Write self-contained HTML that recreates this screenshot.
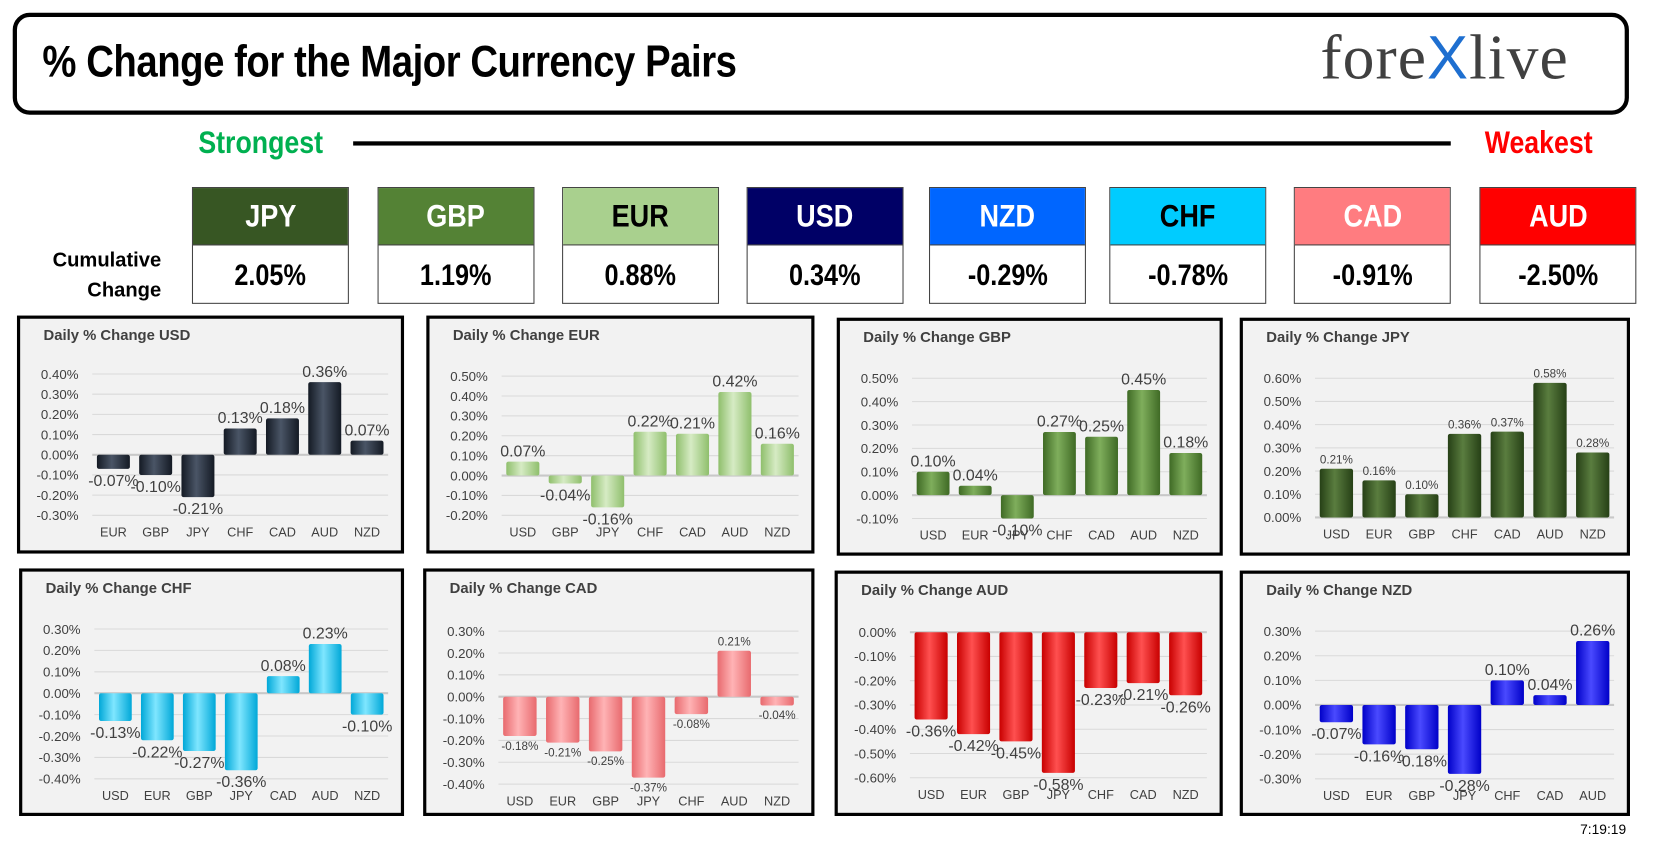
<!DOCTYPE html>
<html><head><meta charset="utf-8">
<style>
html,body{margin:0;padding:0;background:#fff;overflow:hidden;width:1663px;height:852px}
#root{position:absolute;left:0;top:0;width:1560px;height:800px;transform-origin:0 0;transform:scale(1.0605,1.0625);font-family:"Liberation Sans",sans-serif}
.abs{position:absolute}
.cond{font-family:"Liberation Sans Narrow","Liberation Sans",sans-serif;font-weight:bold}
.hdr{position:absolute;left:12px;top:12px;width:1516px;height:88px;border:4px solid #000;border-radius:16px}
.cur{position:absolute;top:176px;height:110px;border:1px solid #444;box-sizing:border-box}
.cur .h{height:53px;line-height:53px;text-align:center;font-size:30px;border-bottom:1px solid #444}
.cur .v{height:56px;line-height:56px;text-align:center;font-size:28px;color:#000}
.cur .h span,.cur .v span{display:inline-block;transform:scaleX(0.85)}
.panel{position:absolute;border:3px solid #000;background:#f2f2f2;box-sizing:border-box}
</style></head><body>
<div id="root">
<div class="hdr"></div>
<div class="abs cond" style="left:40px;top:34px;font-size:42px;letter-spacing:-0.5px;transform:scaleX(0.86);transform-origin:0 0">% Change for the Major Currency Pairs</div>
<div class="abs" style="left:1245px;top:20px;font-family:'Liberation Serif',serif;font-size:60px;color:#404040;letter-spacing:1px">fore<span style="color:#1e6fd0;font-family:'Liberation Sans',sans-serif;font-size:58px">X</span>live</div>
<div class="abs cond" style="left:187px;top:118px;font-size:30px;color:#00b050;transform:scaleX(0.84);transform-origin:0 0">Strongest</div>
<div class="abs" style="left:333px;top:133px;width:1035px;height:4px;background:#000"></div>
<div class="abs cond" style="left:1400px;top:118px;font-size:30px;color:#ff0000;transform:scaleX(0.84);transform-origin:0 0">Weakest</div>
<div class="abs cond" style="left:40px;top:232px;width:112px;text-align:right;font-size:19px;line-height:28px">Cumulative<br>Change</div>
<div id="curs"></div>
<div id="panels"></div>
<div class="abs" style="left:1490px;top:773px;font-size:13px">7:19:19</div>
</div>
<script>
const curNames=["JPY","GBP","EUR","USD","NZD","CHF","CAD","AUD"];
const curVals=["2.05%","1.19%","0.88%","0.34%","-0.29%","-0.78%","-0.91%","-2.50%"];
const curX=[181,356,530,704,876,1046,1220,1395];
const curBg=["#375623","#548235","#a9d08e","#000066","#0066ff","#00ccff","#ff7c80","#ff0000"];
const curFg=["#fff","#fff","#000","#fff","#fff","#000","#fff","#fff"];
const cc=document.getElementById('curs');
curNames.forEach((n,i)=>{
  const d=document.createElement('div');d.className='cur';
  
  
  d.style.left=curX[i]+'px';d.style.width='148px';
  d.innerHTML='<div class="h cond" style="background:'+curBg[i]+';color:'+curFg[i]+'"><span>'+n+'</span></div><div class="v cond"><span>'+curVals[i]+'</span></div>';
  cc.appendChild(d);
});

const usdCats=["EUR","GBP","JPY","CHF","CAD","AUD","NZD"];
const usdVals=[-0.07,-0.10,-0.21,0.13,0.18,0.36,0.07];
const eurCats=["USD","GBP","JPY","CHF","CAD","AUD","NZD"];
const eurVals=[0.07,-0.04,-0.16,0.22,0.21,0.42,0.16];
const gbpCats=["USD","EUR","JPY","CHF","CAD","AUD","NZD"];
const gbpVals=[0.10,0.04,-0.10,0.27,0.25,0.45,0.18];
const jpyCats=["USD","EUR","GBP","CHF","CAD","AUD","NZD"];
const jpyVals=[0.21,0.16,0.10,0.36,0.37,0.58,0.28];
const chfCats=["USD","EUR","GBP","JPY","CAD","AUD","NZD"];
const chfVals=[-0.13,-0.22,-0.27,-0.36,0.08,0.23,-0.10];
const cadCats=["USD","EUR","GBP","JPY","CHF","AUD","NZD"];
const cadVals=[-0.18,-0.21,-0.25,-0.37,-0.08,0.21,-0.04];
const audCats=["USD","EUR","GBP","JPY","CHF","CAD","NZD"];
const audVals=[-0.36,-0.42,-0.45,-0.58,-0.23,-0.21,-0.26];
const nzdCats=["USD","EUR","GBP","JPY","CHF","CAD","AUD"];
const nzdVals=[-0.07,-0.16,-0.18,-0.28,0.10,0.04,0.26];
const usdTicks=[0.4,-0.3], eurTicks=[0.5,-0.2], gbpTicks=[0.5,-0.1], jpyTicks=[0.6,0.0];
const chfTicks=[0.3,-0.4], cadTicks=[0.3,-0.4], audTicks=[0.0,-0.6], nzdTicks=[0.3,-0.3];

const panels=[
 {n:"USD",x:16,y:297,w:365,h:224,c:usdCats,v:usdVals,t:usdTicks,col:["#4a5566","#141a24"],fs:15,top:52,bot:185},
 {n:"EUR",x:402,y:297,w:366,h:224,c:eurCats,v:eurVals,t:eurTicks,col:["#d6ebc4","#8fbf6c"],fs:15,top:54,bot:185},
 {n:"GBP",x:789,y:299,w:364,h:224,c:gbpCats,v:gbpVals,t:gbpTicks,col:["#7fae5c","#3f6a25"],fs:15,top:54,bot:186},
 {n:"JPY",x:1169,y:299,w:368,h:224,c:jpyCats,v:jpyVals,t:jpyTicks,col:["#5a7d3f","#264016"],fs:11,top:54,bot:185},
 {n:"CHF",x:18,y:535,w:363,h:233,c:chfCats,v:chfVals,t:chfTicks,col:["#7fe6ff","#00a8d8"],fs:15,top:54,bot:195},
 {n:"CAD",x:399,y:535,w:369,h:233,c:cadCats,v:cadVals,t:cadTicks,col:["#ffb3b5","#e86a6e"],fs:11,top:56,bot:200},
 {n:"AUD",x:787,y:537,w:366,h:231,c:audCats,v:audVals,t:audTicks,col:["#ff5050","#c80000"],fs:15,top:55,bot:192},
 {n:"NZD",x:1169,y:537,w:368,h:231,c:nzdCats,v:nzdVals,t:nzdTicks,col:["#4a4aff","#0000c8"],fs:15,top:54,bot:193}
];
const pc=document.getElementById('panels');
const NS="http://www.w3.org/2000/svg";
function fmt(v){return v.toFixed(2)+'%';}
panels.forEach(p=>{
  const d=document.createElement('div');d.className='panel';
  
  
  d.style.left=p.x+'px';d.style.top=p.y+'px';d.style.width=p.w+'px';d.style.height=p.h+'px';
  pc.appendChild(d);
  const svg=document.createElementNS(NS,'svg');
  svg.setAttribute('width',p.w-6);svg.setAttribute('height',p.h-6);
  svg.style.position='absolute';svg.style.left='0';svg.style.top='0';svg.style.overflow='visible';
  d.appendChild(svg);
  const gid='g'+p.n;
  svg.innerHTML='<defs><linearGradient id="'+gid+'" x1="0" x2="1"><stop offset="0" stop-color="'+p.col[1]+'"/><stop offset="0.45" stop-color="'+p.col[0]+'"/><stop offset="1" stop-color="'+p.col[1]+'"/></linearGradient></defs>';
  const W=p.w-6;
  const pl=68, pr=W-12;
  const yMax=p.t[0], yMin=p.t[1];
  const Y=v=>p.top+(yMax-v)/(yMax-yMin)*(p.bot-p.top);
  const band=(pr-pl)/p.c.length;
  const X=i=>pl+band*(i+0.5);
  function txt(x,y,s,fs,anchor,fill,name,weight){
    const t=document.createElementNS(NS,'text');
    t.setAttribute('x',x);t.setAttribute('y',y);t.setAttribute('font-size',fs);
    t.setAttribute('text-anchor',anchor);t.setAttribute('fill',fill);
    t.setAttribute('font-family','Liberation Sans, sans-serif');
    if(weight)t.setAttribute('font-weight',weight);
    t.textContent=s;
    
    
    svg.appendChild(t);
  }
  txt(22,20,'Daily % Change '+p.n,14,'start','#404040','chart-title','bold');
  const nT=Math.round((yMax-yMin)/0.1);
  for(let k=0;k<=nT;k++){
    const v=yMax-k*0.1;const y=Y(v);
    const ln=document.createElementNS(NS,'line');
    ln.setAttribute('x1',pl);ln.setAttribute('x2',pr);ln.setAttribute('y1',y);ln.setAttribute('y2',y);
    ln.setAttribute('stroke',Math.abs(v)<1e-9?'#c8c8c8':'#d9d9d9');ln.setAttribute('stroke-width',Math.abs(v)<1e-9?2:1);
    
    
    svg.appendChild(ln);
    txt(55,y+4.5,fmt(Math.abs(v)<1e-9?0:v),12.5,'end','#404040','y-tick-label');
  }
  const y0=Y(0);
  p.c.forEach((c,i)=>{
    const v=p.v[i];const bw=band*0.78;const yv=Y(v);
    const r=document.createElementNS(NS,'rect');
    r.setAttribute('x',X(i)-bw/2);r.setAttribute('width',bw);
    r.setAttribute('y',Math.min(yv,y0));r.setAttribute('height',Math.max(1,Math.abs(yv-y0)));
    r.setAttribute('fill','url(#'+gid+')');r.setAttribute('rx',2);
    
    
    svg.appendChild(r);
    const ly=v>=0?yv-5:yv+(p.fs>12?16:13);
    txt(X(i),ly,fmt(v),p.fs,'middle','#404040','data-label-'+c.toLowerCase());
    txt(X(i),p.bot+20,c,12,'middle','#404040','x-tick-label');
  });
});
</script>
</body></html>
